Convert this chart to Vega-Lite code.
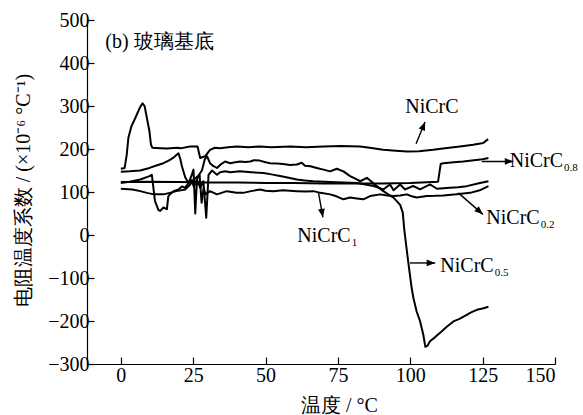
{
  "$schema": "https://vega.github.io/schema/vega-lite/v6.json",
  "width": 468,
  "height": 344,
  "autosize": {"type": "none"},
  "padding": {"left": 87, "top": 20, "right": 28, "bottom": 51},
  "background": "white",
  "config": {
    "view": {"stroke": null},
    "axis": {
      "grid": false,
      "domainColor": "black",
      "domainWidth": 1.2,
      "tickColor": "black",
      "tickWidth": 1.2,
      "tickSize": -7
    }
  },
  "datasets": {
    "curves": [
      {"s": "NiCrC", "t": 0, "v": 154}, {"s": "NiCrC", "t": 1.3, "v": 156}, {"s": "NiCrC", "t": 2.0, "v": 185},
      {"s": "NiCrC", "t": 2.6, "v": 226}, {"s": "NiCrC", "t": 3.6, "v": 252}, {"s": "NiCrC", "t": 4.9, "v": 271},
      {"s": "NiCrC", "t": 6.7, "v": 298}, {"s": "NiCrC", "t": 7.5, "v": 306}, {"s": "NiCrC", "t": 8.2, "v": 300},
      {"s": "NiCrC", "t": 9.0, "v": 272}, {"s": "NiCrC", "t": 9.9, "v": 240}, {"s": "NiCrC", "t": 10.4, "v": 210},
      {"s": "NiCrC", "t": 10.9, "v": 203}, {"s": "NiCrC", "t": 13.6, "v": 202}, {"s": "NiCrC", "t": 16, "v": 201},
      {"s": "NiCrC", "t": 19.3, "v": 203}, {"s": "NiCrC", "t": 21, "v": 202}, {"s": "NiCrC", "t": 23.9, "v": 206},
      {"s": "NiCrC", "t": 26.5, "v": 206}, {"s": "NiCrC", "t": 27.4, "v": 179}, {"s": "NiCrC", "t": 29.1, "v": 183},
      {"s": "NiCrC", "t": 30.8, "v": 198}, {"s": "NiCrC", "t": 32.5, "v": 203}, {"s": "NiCrC", "t": 34.3, "v": 202},
      {"s": "NiCrC", "t": 37, "v": 204}, {"s": "NiCrC", "t": 40.1, "v": 206}, {"s": "NiCrC", "t": 44, "v": 204},
      {"s": "NiCrC", "t": 48, "v": 206}, {"s": "NiCrC", "t": 52, "v": 204}, {"s": "NiCrC", "t": 58.5, "v": 206},
      {"s": "NiCrC", "t": 64, "v": 204}, {"s": "NiCrC", "t": 70, "v": 206}, {"s": "NiCrC", "t": 76, "v": 207},
      {"s": "NiCrC", "t": 82.7, "v": 206}, {"s": "NiCrC", "t": 86, "v": 203}, {"s": "NiCrC", "t": 90.6, "v": 198},
      {"s": "NiCrC", "t": 95, "v": 196}, {"s": "NiCrC", "t": 98.9, "v": 194}, {"s": "NiCrC", "t": 103, "v": 195},
      {"s": "NiCrC", "t": 107.9, "v": 198}, {"s": "NiCrC", "t": 112, "v": 202}, {"s": "NiCrC", "t": 117.2, "v": 206},
      {"s": "NiCrC", "t": 121.7, "v": 210}, {"s": "NiCrC", "t": 125.2, "v": 214}, {"s": "NiCrC", "t": 126.9, "v": 223},

      {"s": "NiCrC0.8", "t": 0, "v": 123}, {"s": "NiCrC0.8", "t": 10, "v": 124}, {"s": "NiCrC0.8", "t": 20, "v": 123},
      {"s": "NiCrC0.8", "t": 30, "v": 122}, {"s": "NiCrC0.8", "t": 40, "v": 122}, {"s": "NiCrC0.8", "t": 50, "v": 121},
      {"s": "NiCrC0.8", "t": 60, "v": 121}, {"s": "NiCrC0.8", "t": 70, "v": 120}, {"s": "NiCrC0.8", "t": 80, "v": 120},
      {"s": "NiCrC0.8", "t": 90, "v": 120}, {"s": "NiCrC0.8", "t": 100, "v": 121}, {"s": "NiCrC0.8", "t": 109.6, "v": 124},
      {"s": "NiCrC0.8", "t": 110.5, "v": 165}, {"s": "NiCrC0.8", "t": 111.4, "v": 167}, {"s": "NiCrC0.8", "t": 115, "v": 169},
      {"s": "NiCrC0.8", "t": 118.3, "v": 171}, {"s": "NiCrC0.8", "t": 122, "v": 174}, {"s": "NiCrC0.8", "t": 125, "v": 176},
      {"s": "NiCrC0.8", "t": 127, "v": 179},

      {"s": "NiCrC0.5", "t": 0, "v": 147}, {"s": "NiCrC0.5", "t": 3, "v": 148}, {"s": "NiCrC0.5", "t": 6.7, "v": 150},
      {"s": "NiCrC0.5", "t": 9.9, "v": 156}, {"s": "NiCrC0.5", "t": 12, "v": 161}, {"s": "NiCrC0.5", "t": 14.7, "v": 167},
      {"s": "NiCrC0.5", "t": 16.5, "v": 173}, {"s": "NiCrC0.5", "t": 18.2, "v": 180}, {"s": "NiCrC0.5", "t": 19.9, "v": 190},
      {"s": "NiCrC0.5", "t": 20.5, "v": 178}, {"s": "NiCrC0.5", "t": 21.1, "v": 160}, {"s": "NiCrC0.5", "t": 22.2, "v": 135},
      {"s": "NiCrC0.5", "t": 23.4, "v": 120}, {"s": "NiCrC0.5", "t": 24.5, "v": 128}, {"s": "NiCrC0.5", "t": 25.2, "v": 112},
      {"s": "NiCrC0.5", "t": 26, "v": 125}, {"s": "NiCrC0.5", "t": 27, "v": 140}, {"s": "NiCrC0.5", "t": 28, "v": 150},
      {"s": "NiCrC0.5", "t": 29, "v": 176}, {"s": "NiCrC0.5", "t": 29.8, "v": 183}, {"s": "NiCrC0.5", "t": 30.8, "v": 167},
      {"s": "NiCrC0.5", "t": 32, "v": 160}, {"s": "NiCrC0.5", "t": 33.2, "v": 156}, {"s": "NiCrC0.5", "t": 34.3, "v": 163},
      {"s": "NiCrC0.5", "t": 36, "v": 171}, {"s": "NiCrC0.5", "t": 37.8, "v": 167}, {"s": "NiCrC0.5", "t": 39.5, "v": 169},
      {"s": "NiCrC0.5", "t": 41.2, "v": 171}, {"s": "NiCrC0.5", "t": 43, "v": 170}, {"s": "NiCrC0.5", "t": 44.7, "v": 171},
      {"s": "NiCrC0.5", "t": 46, "v": 174}, {"s": "NiCrC0.5", "t": 48, "v": 173}, {"s": "NiCrC0.5", "t": 50, "v": 169},
      {"s": "NiCrC0.5", "t": 51.6, "v": 167}, {"s": "NiCrC0.5", "t": 54, "v": 166}, {"s": "NiCrC0.5", "t": 56, "v": 165},
      {"s": "NiCrC0.5", "t": 58.5, "v": 163}, {"s": "NiCrC0.5", "t": 60.8, "v": 164}, {"s": "NiCrC0.5", "t": 62.5, "v": 168},
      {"s": "NiCrC0.5", "t": 63.6, "v": 161}, {"s": "NiCrC0.5", "t": 65.5, "v": 160}, {"s": "NiCrC0.5", "t": 67.7, "v": 156},
      {"s": "NiCrC0.5", "t": 70, "v": 152}, {"s": "NiCrC0.5", "t": 72.3, "v": 148}, {"s": "NiCrC0.5", "t": 74.6, "v": 154},
      {"s": "NiCrC0.5", "t": 76.9, "v": 148}, {"s": "NiCrC0.5", "t": 79.2, "v": 137}, {"s": "NiCrC0.5", "t": 81, "v": 131},
      {"s": "NiCrC0.5", "t": 82.7, "v": 125}, {"s": "NiCrC0.5", "t": 85, "v": 133}, {"s": "NiCrC0.5", "t": 88, "v": 116},
      {"s": "NiCrC0.5", "t": 90.7, "v": 102}, {"s": "NiCrC0.5", "t": 92.5, "v": 94}, {"s": "NiCrC0.5", "t": 94.2, "v": 87},
      {"s": "NiCrC0.5", "t": 96.5, "v": 70}, {"s": "NiCrC0.5", "t": 97.4, "v": 52}, {"s": "NiCrC0.5", "t": 97.9, "v": 14},
      {"s": "NiCrC0.5", "t": 98.6, "v": -25}, {"s": "NiCrC0.5", "t": 99.3, "v": -63}, {"s": "NiCrC0.5", "t": 99.9, "v": -94},
      {"s": "NiCrC0.5", "t": 100.5, "v": -124}, {"s": "NiCrC0.5", "t": 101.1, "v": -147}, {"s": "NiCrC0.5", "t": 102.2, "v": -178},
      {"s": "NiCrC0.5", "t": 103.4, "v": -201}, {"s": "NiCrC0.5", "t": 104.5, "v": -232}, {"s": "NiCrC0.5", "t": 105.2, "v": -260},
      {"s": "NiCrC0.5", "t": 106, "v": -257}, {"s": "NiCrC0.5", "t": 106.8, "v": -247}, {"s": "NiCrC0.5", "t": 108.5, "v": -238},
      {"s": "NiCrC0.5", "t": 110.9, "v": -224}, {"s": "NiCrC0.5", "t": 112.5, "v": -214}, {"s": "NiCrC0.5", "t": 114.9, "v": -201},
      {"s": "NiCrC0.5", "t": 117, "v": -195}, {"s": "NiCrC0.5", "t": 119.5, "v": -186}, {"s": "NiCrC0.5", "t": 121, "v": -180},
      {"s": "NiCrC0.5", "t": 123, "v": -174}, {"s": "NiCrC0.5", "t": 125, "v": -171}, {"s": "NiCrC0.5", "t": 127, "v": -167},

      {"s": "NiCrC1", "t": 0, "v": 121}, {"s": "NiCrC1", "t": 3, "v": 124}, {"s": "NiCrC1", "t": 6.7, "v": 129},
      {"s": "NiCrC1", "t": 9.9, "v": 137}, {"s": "NiCrC1", "t": 10.7, "v": 140}, {"s": "NiCrC1", "t": 11.8, "v": 79},
      {"s": "NiCrC1", "t": 13, "v": 58}, {"s": "NiCrC1", "t": 13.6, "v": 56}, {"s": "NiCrC1", "t": 14.7, "v": 64},
      {"s": "NiCrC1", "t": 15.9, "v": 60}, {"s": "NiCrC1", "t": 16.4, "v": 90}, {"s": "NiCrC1", "t": 17, "v": 95},
      {"s": "NiCrC1", "t": 18.2, "v": 102}, {"s": "NiCrC1", "t": 19.9, "v": 106}, {"s": "NiCrC1", "t": 21.1, "v": 113},
      {"s": "NiCrC1", "t": 22.2, "v": 110}, {"s": "NiCrC1", "t": 23.4, "v": 121}, {"s": "NiCrC1", "t": 24.5, "v": 140},
      {"s": "NiCrC1", "t": 25.1, "v": 152}, {"s": "NiCrC1", "t": 25.7, "v": 50}, {"s": "NiCrC1", "t": 26.3, "v": 129},
      {"s": "NiCrC1", "t": 27.4, "v": 110}, {"s": "NiCrC1", "t": 28.5, "v": 125}, {"s": "NiCrC1", "t": 29.5, "v": 40},
      {"s": "NiCrC1", "t": 30.3, "v": 140}, {"s": "NiCrC1", "t": 31.5, "v": 150}, {"s": "NiCrC1", "t": 33.2, "v": 140},
      {"s": "NiCrC1", "t": 34.3, "v": 146}, {"s": "NiCrC1", "t": 36, "v": 148}, {"s": "NiCrC1", "t": 37.8, "v": 146},
      {"s": "NiCrC1", "t": 41.2, "v": 148}, {"s": "NiCrC1", "t": 45, "v": 146}, {"s": "NiCrC1", "t": 49.3, "v": 144},
      {"s": "NiCrC1", "t": 52, "v": 141}, {"s": "NiCrC1", "t": 55, "v": 137}, {"s": "NiCrC1", "t": 58, "v": 133},
      {"s": "NiCrC1", "t": 60.8, "v": 129}, {"s": "NiCrC1", "t": 63.5, "v": 127}, {"s": "NiCrC1", "t": 66.5, "v": 125},
      {"s": "NiCrC1", "t": 72.3, "v": 123}, {"s": "NiCrC1", "t": 77, "v": 122}, {"s": "NiCrC1", "t": 81.5, "v": 121},
      {"s": "NiCrC1", "t": 84, "v": 118}, {"s": "NiCrC1", "t": 87.3, "v": 114}, {"s": "NiCrC1", "t": 90.7, "v": 106},
      {"s": "NiCrC1", "t": 93, "v": 117.5}, {"s": "NiCrC1", "t": 94.2, "v": 104}, {"s": "NiCrC1", "t": 96.5, "v": 117.5},
      {"s": "NiCrC1", "t": 98.2, "v": 106}, {"s": "NiCrC1", "t": 101, "v": 114}, {"s": "NiCrC1", "t": 103.4, "v": 106},
      {"s": "NiCrC1", "t": 106.8, "v": 117.5}, {"s": "NiCrC1", "t": 109.2, "v": 107.6}, {"s": "NiCrC1", "t": 113.7, "v": 110},
      {"s": "NiCrC1", "t": 116.5, "v": 111}, {"s": "NiCrC1", "t": 119.5, "v": 113.6}, {"s": "NiCrC1", "t": 124.1, "v": 121},
      {"s": "NiCrC1", "t": 127, "v": 125},

      {"s": "NiCrC0.2", "t": 0, "v": 107.6}, {"s": "NiCrC0.2", "t": 4, "v": 106}, {"s": "NiCrC0.2", "t": 6.7, "v": 102},
      {"s": "NiCrC0.2", "t": 9, "v": 98}, {"s": "NiCrC0.2", "t": 11.4, "v": 94.5}, {"s": "NiCrC0.2", "t": 14.7, "v": 94.5},
      {"s": "NiCrC0.2", "t": 16.9, "v": 98}, {"s": "NiCrC0.2", "t": 19.2, "v": 102}, {"s": "NiCrC0.2", "t": 22.2, "v": 106},
      {"s": "NiCrC0.2", "t": 24, "v": 117.5}, {"s": "NiCrC0.2", "t": 25.2, "v": 129}, {"s": "NiCrC0.2", "t": 27.2, "v": 140},
      {"s": "NiCrC0.2", "t": 27.9, "v": 75}, {"s": "NiCrC0.2", "t": 28.6, "v": 110}, {"s": "NiCrC0.2", "t": 29.2, "v": 94.5},
      {"s": "NiCrC0.2", "t": 30.8, "v": 102}, {"s": "NiCrC0.2", "t": 33.2, "v": 94.5}, {"s": "NiCrC0.2", "t": 36.6, "v": 102},
      {"s": "NiCrC0.2", "t": 40, "v": 98}, {"s": "NiCrC0.2", "t": 42.3, "v": 98}, {"s": "NiCrC0.2", "t": 45, "v": 102},
      {"s": "NiCrC0.2", "t": 48.1, "v": 106}, {"s": "NiCrC0.2", "t": 50, "v": 103}, {"s": "NiCrC0.2", "t": 52.7, "v": 102},
      {"s": "NiCrC0.2", "t": 56, "v": 104}, {"s": "NiCrC0.2", "t": 60.8, "v": 102}, {"s": "NiCrC0.2", "t": 64, "v": 101},
      {"s": "NiCrC0.2", "t": 66.5, "v": 102}, {"s": "NiCrC0.2", "t": 69, "v": 98}, {"s": "NiCrC0.2", "t": 72.3, "v": 94.5},
      {"s": "NiCrC0.2", "t": 74.5, "v": 90}, {"s": "NiCrC0.2", "t": 76.9, "v": 83}, {"s": "NiCrC0.2", "t": 79.2, "v": 87},
      {"s": "NiCrC0.2", "t": 81.5, "v": 85}, {"s": "NiCrC0.2", "t": 83.8, "v": 83}, {"s": "NiCrC0.2", "t": 86.1, "v": 90.5},
      {"s": "NiCrC0.2", "t": 89.6, "v": 94.5}, {"s": "NiCrC0.2", "t": 92, "v": 92}, {"s": "NiCrC0.2", "t": 94.2, "v": 90.5},
      {"s": "NiCrC0.2", "t": 96.5, "v": 92}, {"s": "NiCrC0.2", "t": 98.8, "v": 94.5}, {"s": "NiCrC0.2", "t": 100.5, "v": 90},
      {"s": "NiCrC0.2", "t": 102.2, "v": 87}, {"s": "NiCrC0.2", "t": 104, "v": 89}, {"s": "NiCrC0.2", "t": 105.7, "v": 90.5},
      {"s": "NiCrC0.2", "t": 108.5, "v": 91}, {"s": "NiCrC0.2", "t": 111.4, "v": 92}, {"s": "NiCrC0.2", "t": 116, "v": 94.5},
      {"s": "NiCrC0.2", "t": 120.7, "v": 98}, {"s": "NiCrC0.2", "t": 124, "v": 104}, {"s": "NiCrC0.2", "t": 127, "v": 113.6}
    ],
    "labels": [
      {"name": "NiCrC", "sub": "", "t": 116.7, "v": 283},
      {"name": "NiCrC", "sub": "0.8", "t": 152.8, "v": 158},
      {"name": "NiCrC", "sub": "0.2", "t": 144.7, "v": 25},
      {"name": "NiCrC", "sub": "1", "t": 79.4, "v": -17},
      {"name": "NiCrC", "sub": "0.5", "t": 128.8, "v": -86}
    ],
    "arrows": [
      {"label": "NiCrC", "t0": 102, "v0": 212, "t": 105.1, "v": 263},
      {"label": "NiCrC0.8", "t0": 124.7, "v0": 171, "t": 135.6, "v": 171},
      {"label": "NiCrC0.2", "t0": 116.6, "v0": 98, "t": 125.1, "v": 48},
      {"label": "NiCrC1", "t0": 68.3, "v0": 98, "t": 69.8, "v": 41},
      {"label": "NiCrC0.5", "t0": 99.9, "v0": -65, "t": 108.6, "v": -65}
    ],
    "panel": [
      {"caption": "(b) 玻璃基底", "t": -5.4, "v": 434}
    ]
  },
  "encoding": {
    "x": {
      "field": "t",
      "type": "quantitative",
      "scale": {"domain": [-11.7, 150], "nice": false, "zero": false},
      "axis": {
        "values": [0, 25, 50, 75, 100, 125, 150],
        "labelFont": "Liberation Serif",
        "labelFontSize": 20,
        "labelColor": "black",
        "labelPadding": 8,
        "title": "温度 / °C",
        "titleFont": "Liberation Serif",
        "titleFontSize": 20,
        "titleFontWeight": "normal",
        "titleColor": "black",
        "titleX": 252,
        "titleY": 41,
        "titleBaseline": "middle",
        "titleAlign": "center"
      }
    },
    "y": {
      "field": "v",
      "type": "quantitative",
      "scale": {"domain": [-300, 500], "nice": false, "zero": false},
      "axis": {
        "values": [-300, -200, -100, 0, 100, 200, 300, 400, 500],
        "labelFont": "Liberation Serif",
        "labelFontSize": 20,
        "labelColor": "black",
        "labelPadding": 5,
        "title": "电阻温度系数 / (×10⁻⁶ °C⁻¹)",
        "titleFont": "Liberation Serif",
        "titleFontSize": 20,
        "titleFontWeight": "normal",
        "titleColor": "black",
        "titleAngle": 270,
        "titleX": -64,
        "titleY": 170,
        "titleBaseline": "middle",
        "titleAlign": "center"
      }
    }
  },
  "layer": [
    {
      "data": {"name": "curves"},
      "mark": {"type": "line", "stroke": "black", "strokeWidth": 2, "strokeJoin": "round"},
      "encoding": {"detail": {"field": "s"}}
    },
    {
      "data": {"name": "arrows"},
      "mark": {"type": "rule", "stroke": "black", "strokeWidth": 1.4},
      "encoding": {"x2": {"field": "t0"}, "y2": {"field": "v0"}}
    },
    {
      "data": {"name": "arrows"},
      "transform": [{"filter": "datum.label === 'NiCrC0.8' || datum.label === 'NiCrC0.5'"}],
      "mark": {"type": "point", "shape": "M0,0L-1,-0.4L-1,0.4Z", "filled": true, "fill": "black", "stroke": null, "opacity": 1, "size": 289, "angle": 0}
    },
    {
      "data": {"name": "arrows"},
      "transform": [{"filter": "datum.label === 'NiCrC'"}],
      "mark": {"type": "point", "shape": "M0,0L-1,-0.4L-1,0.4Z", "filled": true, "fill": "black", "stroke": null, "opacity": 1, "size": 289, "angle": 292}
    },
    {
      "data": {"name": "arrows"},
      "transform": [{"filter": "datum.label === 'NiCrC0.2'"}],
      "mark": {"type": "point", "shape": "M0,0L-1,-0.4L-1,0.4Z", "filled": true, "fill": "black", "stroke": null, "opacity": 1, "size": 289, "angle": 41}
    },
    {
      "data": {"name": "arrows"},
      "transform": [{"filter": "datum.label === 'NiCrC1'"}],
      "mark": {"type": "point", "shape": "M0,0L-1,-0.4L-1,0.4Z", "filled": true, "fill": "black", "stroke": null, "opacity": 1, "size": 289, "angle": 80}
    },
    {
      "data": {"name": "labels"},
      "mark": {"type": "text", "align": "right", "baseline": "alphabetic", "font": "Liberation Serif", "fontSize": 20, "color": "black"},
      "encoding": {"text": {"field": "name"}}
    },
    {
      "data": {"name": "labels"},
      "transform": [{"filter": "datum.sub !== ''"}],
      "mark": {"type": "text", "align": "left", "baseline": "alphabetic", "dx": 1, "dy": 4, "font": "Liberation Serif", "fontSize": 11, "color": "black"},
      "encoding": {"text": {"field": "sub"}}
    },
    {
      "data": {"name": "panel"},
      "mark": {"type": "text", "align": "left", "baseline": "alphabetic", "font": "Liberation Serif", "fontSize": 20, "color": "black"},
      "encoding": {"text": {"field": "caption"}}
    }
  ]
}
